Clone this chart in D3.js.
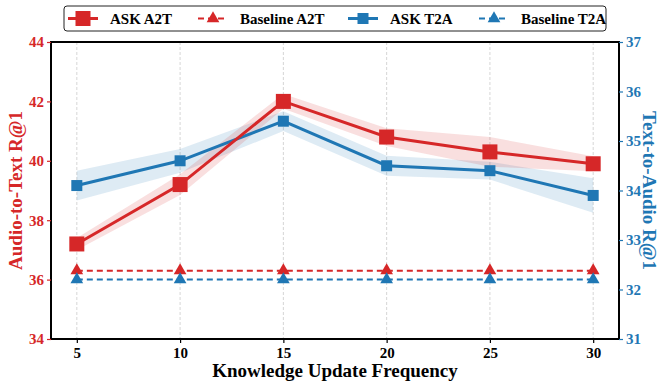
<!DOCTYPE html>
<html>
<head>
<meta charset="utf-8">
<script src="https://cdn.jsdelivr.net/npm/d3@7"></script>
<style>
  html, body { margin: 0; padding: 0; background: #fff; }
  svg { display: block; }
  text { font-family: "Liberation Serif", "Times New Roman", serif; font-weight: bold; }
</style>
</head>
<body>
<svg id="chart" width="660" height="381"></svg>
<script>
// Knowledge update frequency sweep
const frequencies = [5, 10, 15, 20, 25, 30];

// Audio-to-Text R@1 (left axis)
const askA2T = [37.2, 39.2, 42.0, 40.8, 40.3, 39.9];
const askA2TSpread = [0.2, 0.35, 0.25, 0.3, 0.5, 0.25];
const baselineA2T = [36.3, 36.3, 36.3, 36.3, 36.3, 36.3];

// Text-to-Audio R@1 (right axis)
const askT2A = [34.1, 34.6, 35.4, 34.5, 34.4, 33.9];
const askT2ASpread = [0.3, 0.24, 0.2, 0.2, 0.18, 0.35];
const baselineT2A = [32.2, 32.2, 32.2, 32.2, 32.2, 32.2];

const leftTicks = [34, 36, 38, 40, 42, 44];
const rightTicks = [31, 32, 33, 34, 35, 36, 37];

const RED = "#d62728", BLUE = "#1f77b4";

const svg = d3.select("#chart");
const m = { left: 51, right: 619, top: 42, bottom: 339 };

const x = d3.scaleLinear().domain([3.75, 31.25]).range([m.left, m.right]);
const yL = d3.scaleLinear().domain([34, 44]).range([m.bottom, m.top]);
const yR = d3.scaleLinear().domain([31, 37]).range([m.bottom, m.top]);

// vertical dashed grid
svg.append("g").selectAll("line").data(frequencies).join("line")
  .attr("x1", d => x(d)).attr("x2", d => x(d))
  .attr("y1", m.top).attr("y2", m.bottom)
  .attr("stroke", "#cccccc").attr("stroke-width", 0.8)
  .attr("stroke-dasharray", "3,2");

function band(vals, spread, y, color) {
  const area = d3.area()
    .x((d, i) => x(frequencies[i]))
    .y0((d, i) => y(d - spread[i]))
    .y1((d, i) => y(d + spread[i]));
  svg.append("path").datum(vals).attr("d", area)
    .attr("fill", color).attr("fill-opacity", 0.15).attr("stroke", "none");
}

function drawMarker(g, type, cx, cy, size, color) {
  if (type === "square") {
    g.append("rect").attr("x", cx - size / 2).attr("y", cy - size / 2)
      .attr("width", size).attr("height", size).attr("fill", color);
  } else {
    g.append("path").attr("d", d3.symbol().type(d3.symbolTriangle).size(size)())
      .attr("transform", `translate(${cx},${cy})`).attr("fill", color);
  }
}

function series(vals, y, color, opts) {
  const line = d3.line().x((d, i) => x(frequencies[i])).y(d => y(d));
  svg.append("path").datum(vals).attr("d", line)
    .attr("fill", "none").attr("stroke", color)
    .attr("stroke-width", opts.width)
    .attr("stroke-dasharray", opts.dash || null);
  const g = svg.append("g");
  vals.forEach((d, i) => drawMarker(g, opts.marker, x(frequencies[i]), y(d), opts.size, color));
}

band(askT2A, askT2ASpread, yR, BLUE);
band(askA2T, askA2TSpread, yL, RED);

series(baselineA2T, yL, RED, { width: 2, dash: "6,4", marker: "tri", size: 70 });
series(baselineT2A, yR, BLUE, { width: 2, dash: "6,4", marker: "tri", size: 70 });
series(askT2A, yR, BLUE, { width: 3, marker: "square", size: 11 });
series(askA2T, yL, RED, { width: 3, marker: "square", size: 15 });

// frame
svg.append("rect").attr("x", m.left).attr("y", m.top)
  .attr("width", m.right - m.left).attr("height", m.bottom - m.top)
  .attr("fill", "none").attr("stroke", "#000").attr("stroke-width", 2);

// axes
function styleAxis(g, color) {
  g.select(".domain").remove();
  g.selectAll("line").attr("stroke", color).attr("stroke-width", 1.2);
  g.selectAll("text").attr("font-size", 15).attr("fill", color)
    .attr("font-family", "Liberation Serif").attr("font-weight", "bold");
}

const xAxis = svg.append("g").attr("transform", `translate(0,${m.bottom})`)
  .call(d3.axisBottom(x).tickValues(frequencies).tickSize(4).tickPadding(4));
styleAxis(xAxis, "#000");

const lAxis = svg.append("g").attr("transform", `translate(${m.left},0)`)
  .call(d3.axisLeft(yL).tickValues(leftTicks).tickFormat(d3.format("d")).tickSize(4).tickPadding(3));
styleAxis(lAxis, RED);

const rAxis = svg.append("g").attr("transform", `translate(${m.right},0)`)
  .call(d3.axisRight(yR).tickValues(rightTicks).tickFormat(d3.format("d")).tickSize(4).tickPadding(3));
styleAxis(rAxis, BLUE);

// axis titles
svg.append("text").attr("x", (m.left + m.right) / 2).attr("y", 377)
  .attr("text-anchor", "middle").attr("font-size", 19).attr("fill", "#000")
  .text("Knowledge Update Frequency");
svg.append("text").attr("transform", `translate(22,${(m.top + m.bottom) / 2}) rotate(-90)`)
  .attr("text-anchor", "middle").attr("font-size", 19).attr("fill", RED)
  .text("Audio-to-Text R@1");
svg.append("text").attr("transform", `translate(643,${(m.top + m.bottom) / 2}) rotate(90)`)
  .attr("text-anchor", "middle").attr("font-size", 19).attr("fill", BLUE)
  .text("Text-to-Audio R@1");

// legend
const legendItems = [
  { label: "ASK A2T", color: RED, dash: null, marker: "square", size: 15, x: 68 },
  { label: "Baseline A2T", color: RED, dash: "6,4", marker: "tri", size: 70, x: 198 },
  { label: "ASK T2A", color: BLUE, dash: null, marker: "square", size: 11, x: 348 },
  { label: "Baseline T2A", color: BLUE, dash: "6,4", marker: "tri", size: 70, x: 479 }
];
svg.append("rect").attr("x", 64).attr("y", 6).attr("width", 542).attr("height", 25)
  .attr("rx", 3).attr("fill", "#fff").attr("stroke", "#222").attr("stroke-width", 1);
const ly = 18.5;
legendItems.forEach(it => {
  const g = svg.append("g");
  g.append("line").attr("x1", it.x).attr("x2", it.x + 30).attr("y1", ly).attr("y2", ly)
    .attr("stroke", it.color).attr("stroke-width", it.dash ? 2 : 3)
    .attr("stroke-dasharray", it.dash);
  drawMarker(g, it.marker, it.x + 15, ly, it.size, it.color);
  g.append("text").attr("x", it.x + 42).attr("y", ly + 5)
    .attr("font-size", 15).attr("fill", "#000").text(it.label);
});
</script>
</body>
</html>
